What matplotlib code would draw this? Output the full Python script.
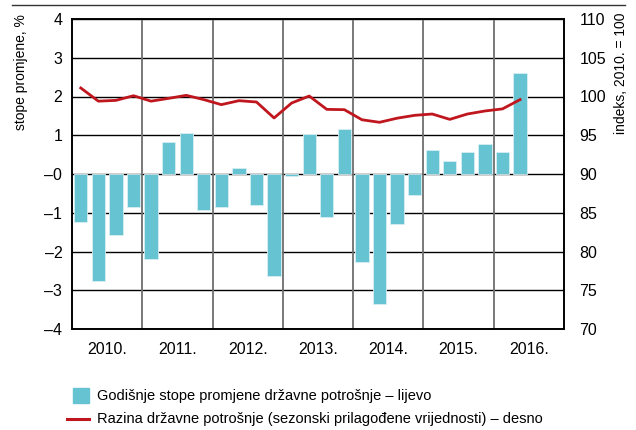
import matplotlib
matplotlib.use("Agg")
import matplotlib.pyplot as plt
import numpy as np

years = ["2010.", "2011.", "2012.", "2013.", "2014.", "2015.", "2016."]
growth = [-1.25, -2.77, -1.58, -0.86,
          -2.20, 0.83, 1.07, -0.92,
          -0.85, 0.15, -0.81, -2.62,
          -0.06, 1.04, -1.12, 1.15,
          -2.26, -3.36, -1.28, -0.53,
          0.61, 0.34, 0.57, 0.77,
          0.57, 2.61]
level = [101.1, 99.4, 99.5, 100.1,
         99.4, 99.76, 100.15, 99.6,
         98.95, 99.46, 99.29, 97.23,
         99.16, 100.06, 98.34, 98.3,
         97.0, 96.67, 97.2, 97.57,
         97.74, 97.05, 97.74, 98.13,
         98.4, 99.6]
left_ticks = [4, 3, 2, 1, 0, -1, -2, -3, -4]
left_labels = ["4", "3", "2", "1", "–0", "–1", "–2", "–3", "–4"]
right_ticks = [70, 75, 80, 85, 90, 95, 100, 105, 110]

legend_bar = "Godišnje stope promjene državne potrošnje – lijevo"
legend_line = "Razina državne potrošnje (sezonski prilagođene vrijednosti) – desno"
ylabel_left = "stope promjene, %"
ylabel_right = "indeks, 2010. = 100"

FONT = ["Liberation Sans Narrow", "Liberation Sans", "DejaVu Sans"]
plt.rcParams['font.family'] = FONT

bar_color = "#66C4D2"
line_color = "#C0161E"

fig = plt.figure(figsize=(6.36, 4.30), dpi=100)
ax = fig.add_axes([72/636, 1-329/430, (564-72)/636, (329-19)/430])
ax2 = ax.twinx()

x = np.arange(len(growth)) * 0.25 + 0.125
ax.set_xlim(0, 7)
ax.set_ylim(-4, 4)
ax2.set_ylim(70, 110)

for yv in left_ticks:
    ax.axhline(yv, color="black", lw=1.0, zorder=1)
for xv in range(1, 7):
    ax.axvline(xv, color="#6e6e6e", lw=1.3, zorder=1)

ax.bar(x, growth, width=0.19, color=bar_color, edgecolor="#d8eff3", linewidth=0.6, zorder=2)

ax2.plot(x, level, color=line_color, lw=2.0, zorder=3)

ax.set_yticks(left_ticks)
ax.set_yticklabels(left_labels, fontsize=11.5)
ax2.set_yticks(right_ticks)
ax2.set_yticklabels([str(v) for v in right_ticks], fontsize=11.5)
ax.set_xticks(np.arange(7) + 0.5)
ax.set_xticklabels(years, fontsize=11.5)
ax.tick_params(axis='both', length=0, pad=7)
ax.tick_params(axis='x', pad=9)
ax2.tick_params(axis='y', length=0, pad=11)

for a in (ax, ax2):
    for s in a.spines.values():
        s.set_color("black")
        s.set_linewidth(1.2)

fig.text(21/636, 1-14/430, ylabel_left, rotation=90, va='top', ha='center', fontsize=10)
fig.text(621/636, 1-12/430, ylabel_right, rotation=90, va='top', ha='center', fontsize=10)

# top rule
fig.add_artist(plt.Line2D([12/636, 625/636], [1-5/430, 1-5/430], color="#333333", lw=1.0))

# legend
fig.add_artist(plt.Rectangle((73/636, 1-403/430), 16/636, 15/430, color=bar_color))
fig.text(97/636, 1-396/430, legend_bar, va='center', ha='left', fontsize=10.5)
fig.add_artist(plt.Line2D([67/636, 89/636], [1-419/430, 1-419/430], color=line_color, lw=2.2))
fig.text(97/636, 1-419/430, legend_line, va='center', ha='left', fontsize=10.5)

fig.savefig("out.png", dpi=100)
